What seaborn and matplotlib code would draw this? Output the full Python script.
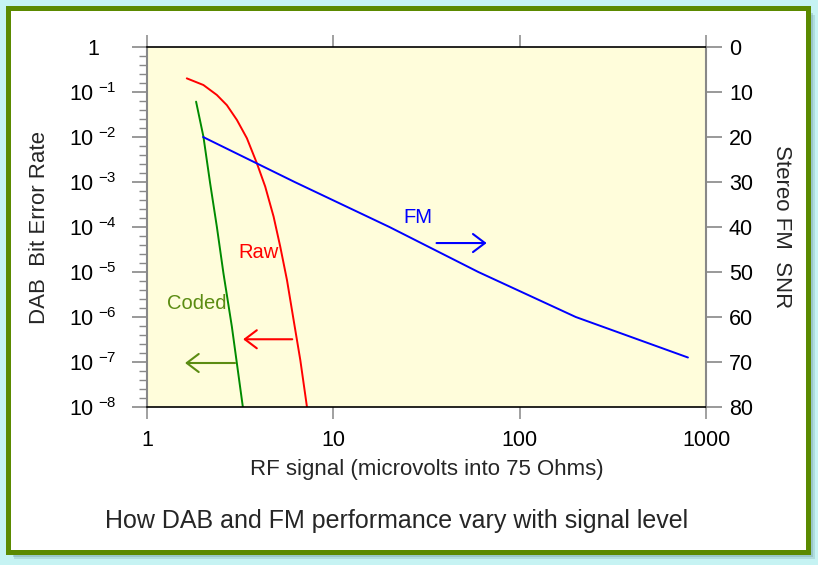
import numpy as np
import pandas as pd
import matplotlib
matplotlib.use("Agg")
import matplotlib.pyplot as plt
import matplotlib.ticker as mticker
from matplotlib.patches import Rectangle
import seaborn as sns

# curve data
raw_rf = [1.635, 2.008, 2.37, 2.683, 3.036, 3.436, 3.889, 4.31, 4.78, 5.19, 5.64, 6.12, 6.65, 7.22]
raw_ber = [2.01e-1, 1.43e-1, 8.6e-2, 5.1e-2, 2.4e-2, 9.4e-3, 2.6e-3, 7.9e-4, 1.7e-4, 3.65e-5,
           6.6e-6, 8.6e-7, 1.1e-7, 1.0e-8]

coded_rf = [1.834, 2.008, 2.182, 2.37, 2.572, 2.854, 3.269]
coded_ber = [6.1e-2, 1.02e-2, 9.35e-4, 1.02e-4, 9.35e-6, 6.1e-7, 1.0e-8]

fm_rf = [2.0, 6.2, 20, 60, 200, 800]
fm_snr = [20, 30, 40, 50, 60, 69]

x_ticks = [1, 10, 100, 1000]
x_ticklabels = ["1", "10", "100", "1000"]
ber_ticks = [1, 1e-1, 1e-2, 1e-3, 1e-4, 1e-5, 1e-6, 1e-7, 1e-8]
ber_ticklabels = ["1"] + [r"$\mathregular{10^{\ {-}%d}}$" % k for k in range(1, 9)]
ber_minor = [10 ** (-k - 0.2 * i) for k in range(8) for i in range(1, 5)]
snr_ticks = [0, 10, 20, 30, 40, 50, 60, 70, 80]

# annotation placements (x0, x1, y)
coded_arrow = (2.97, 1.6, 9.5e-8)
raw_arrow = (6.02, 3.28, 3.2e-7)
fm_arrow = (35.8, 66.5, 4.4e-5)

RED = "#ff0000"
GREEN = "#008a00"
OLIVE = "#5b8c12"
BLUE = "#0000ff"
FRAME = "#5b8a00"

sns.set_style("white")
plt.rcParams["font.family"] = ["Liberation Sans", "DejaVu Sans"]
plt.rcParams["mathtext.fontset"] = "custom"
plt.rcParams["mathtext.rm"] = "Liberation Sans"

fig = plt.figure(figsize=(8.18, 5.65), dpi=100, facecolor="#c6f3f3")
W, H = 818, 565

# frame with soft shadow
for off, a in [(7, 0.25), (5, 0.35), (3, 0.45)]:
    fig.patches.append(Rectangle(((7.5 + off) / W, 1 - (551.5 + off) / H), 800 / W, 544 / H,
                                 transform=fig.transFigure, facecolor="#6f9ea0", edgecolor="none",
                                 alpha=a, zorder=0))
fig.patches.append(Rectangle((7.5 / W, 1 - 551.5 / H), 800 / W, 544 / H, transform=fig.transFigure,
                             facecolor="white", edgecolor=FRAME, linewidth=3.6, zorder=1))

ax = fig.add_axes([147 / W, 1 - 407 / H, 559 / W, 360 / H])
ax.set_facecolor("#fffddb")
ax.set_zorder(2)

df_raw = pd.DataFrame({"rf": raw_rf, "ber": raw_ber})
df_coded = pd.DataFrame({"rf": coded_rf, "ber": coded_ber})
df_fm = pd.DataFrame({"rf": fm_rf, "snr": fm_snr})

sns.lineplot(data=df_raw, x="rf", y="ber", ax=ax, color=RED, linewidth=1.4)
sns.lineplot(data=df_coded, x="rf", y="ber", ax=ax, color=GREEN, linewidth=1.4)

ax.set_xscale("log")
ax.set_yscale("log")
ax.set_xlim(1, 1000)
ax.set_ylim(1e-8, 1)

ax.xaxis.set_major_locator(mticker.FixedLocator(x_ticks))
ax.xaxis.set_major_formatter(mticker.FixedFormatter(x_ticklabels))
ax.xaxis.set_minor_locator(mticker.LogLocator(subs=[2, 5]))
ax.xaxis.set_minor_formatter(mticker.NullFormatter())
ax.tick_params(axis="x", which="both", top=True, bottom=True, direction="out", colors="#999999",
               labelcolor="black", labelsize=15.5)
ax.tick_params(axis="x", which="major", length=8.6, width=1.3, pad=8)
ax.tick_params(axis="x", which="minor", length=4.3, width=1)

for s in ["top", "bottom"]:
    ax.spines[s].set_color("black")
    ax.spines[s].set_linewidth(1.2)
for s in ["left", "right"]:
    ax.spines[s].set_color("#888888")
    ax.spines[s].set_linewidth(1.5)

ax.set_xlabel("RF signal (microvolts into 75 Ohms)", fontsize=16)
ax.xaxis.label.set_va("center")
ax.xaxis.set_label_coords(0.5, -(469 - 407) / 360)
ax.set_ylabel("DAB  Bit Error Rate", fontsize=16)
ax.yaxis.label.set_va("center")
ax.yaxis.set_label_coords((40 - 147) / 559, 0.5)

ax2 = ax.twinx()
sns.lineplot(data=df_fm, x="rf", y="snr", ax=ax2, color=BLUE, linewidth=1.4)
ax2.set_ylim(80, 0)
ax2.set_yticks(snr_ticks)
ax2.minorticks_off()
ax2.tick_params(axis="y", which="major", right=True, direction="out", length=11.5, width=1.2,
                colors="#888888", labelcolor="black", labelsize=15.5, pad=5)
ax2.set_ylabel("Stereo FM  SNR", fontsize=16, rotation=-90)
ax2.yaxis.label.set_va("center")
ax2.yaxis.set_label_coords((782 - 147) / 559, 0.5)
for s in ax2.spines.values():
    s.set_visible(False)

# left axis ticks set last so nothing resets them
ax.set_yticks(ber_ticks)
ax.set_yticklabels(ber_ticklabels, ha="center")
ax.set_yticks(ber_minor, minor=True)
ax.yaxis.set_minor_formatter(mticker.NullFormatter())
ax.tick_params(axis="y", which="both", left=True, direction="out", colors="#888888",
               labelcolor="black", labelsize=15.5)
ax.tick_params(axis="y", which="major", length=10.8, width=1.2, pad=28)
ax.tick_params(axis="y", which="minor", length=5.8, width=1)
ax.set_ylim(1e-8, 1)

# labels and arrows
ax.text(1.86, 10 ** -5.69, "Coded", color=OLIVE, fontsize=14.5, ha="center", va="center")
ax.text(3.95, 10 ** -4.56, "Raw", color=RED, fontsize=14.5, ha="center", va="center")
ax.text(28.6, 10 ** -3.78, "FM", color=BLUE, fontsize=14.5, ha="center", va="center")
for (x0, x1, y), c in [(coded_arrow, OLIVE), (raw_arrow, RED), (fm_arrow, BLUE)]:
    ax.annotate("", xy=(x1, y), xytext=(x0, y),
                arrowprops=dict(arrowstyle="->,head_length=0.86,head_width=0.65", color=c, lw=1.5,
                                shrinkA=0, shrinkB=0))

fig.text(397 / W, 1 - 521 / H, "How DAB and FM performance vary with signal level", fontsize=18,
         ha="center", va="center")

fig.savefig("out.png", dpi=100, facecolor=fig.get_facecolor())
